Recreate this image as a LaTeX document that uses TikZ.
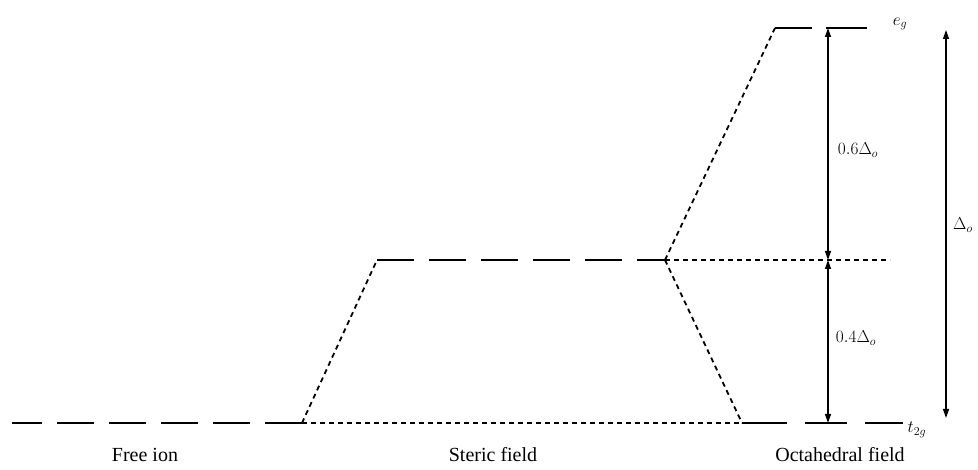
\documentclass[tikz,border=0pt]{standalone}
\usepackage{fontspec}
\setmainfont{Liberation Serif}
\usetikzlibrary{arrows.meta}
\begin{document}
\begin{tikzpicture}[x=1pt,y=-1pt,
  level/.style={line width=2pt, dash pattern=on 37pt off 15pt},
  solidlevel/.style={line width=2pt},
  corr/.style={line width=1.8pt, dash pattern=on 5pt off 4pt},
  bary/.style={line width=1.6pt, dash pattern=on 5pt off 4pt},
  gap/.style={line width=1.3pt, {Triangle[length=9pt,width=6pt]}-{Triangle[length=9pt,width=6pt]}},
  lbl/.style={font=\fontsize{20}{22}\selectfont, inner sep=0pt},
  mlbl/.style={font=\fontsize{17}{19}\selectfont, inner sep=0pt}]
\useasboundingbox (0,0) rectangle (978,470);
% level points
\coordinate (fiL) at (12,423);
\coordinate (fiR) at (302,423);
\coordinate (stL) at (377,260);
\coordinate (stR) at (665,260);
\coordinate (egL) at (775,28);
\coordinate (t2L) at (742,423);
\coordinate (baryR) at (890,260);
\coordinate (egA) at (828,28);
\coordinate (t2A) at (828,423);
\coordinate (baA) at (828,260);
\coordinate (bigT) at (946,30);
\coordinate (bigB) at (946,418);
% free ion
\draw[level] (fiR) -- (fiL);
% steric
\draw[level] (stL) -- (stR);
\draw[corr] (fiR) -- (stL);
\draw[bary] (fiR) -- (t2L);
% octahedral
\draw[corr] (stR) -- (egL);
\draw[corr] (stR) -- (t2L);
\draw[bary] (stR) -- (baryR);
\draw[solidlevel] (egL) -- (812,28);
\draw[solidlevel] (826,28) -- (867,28);
\draw[solidlevel] (t2L) -- (787,423);
\draw[solidlevel] (805,423) -- (847,423);
\draw[solidlevel] (865,423) -- (903,423);
% arrows
\draw[gap] (egA) -- (baA);
\draw[gap] (baA) -- (t2A);
\draw[gap] (bigT) -- (bigB);
% labels
\node[mlbl] (eg) at (900,24) {$e_g$};
\node[mlbl] (t2g) at (917,430) {$t_{2g}$};
\node[mlbl] (six) at (858,150) {$0.6\Delta_o$};
\node[mlbl] (four) at (856,338) {$0.4\Delta_o$};
\node[mlbl, anchor=west] (delta) at (953,225) {$\Delta_o$};
\node[lbl] (free) at (145,455) {Free ion};
\node[lbl] (steric) at (493,455) {Steric field};
\node[lbl] (octa) at (840,455) {Octahedral field};
\end{tikzpicture}
\end{document}
